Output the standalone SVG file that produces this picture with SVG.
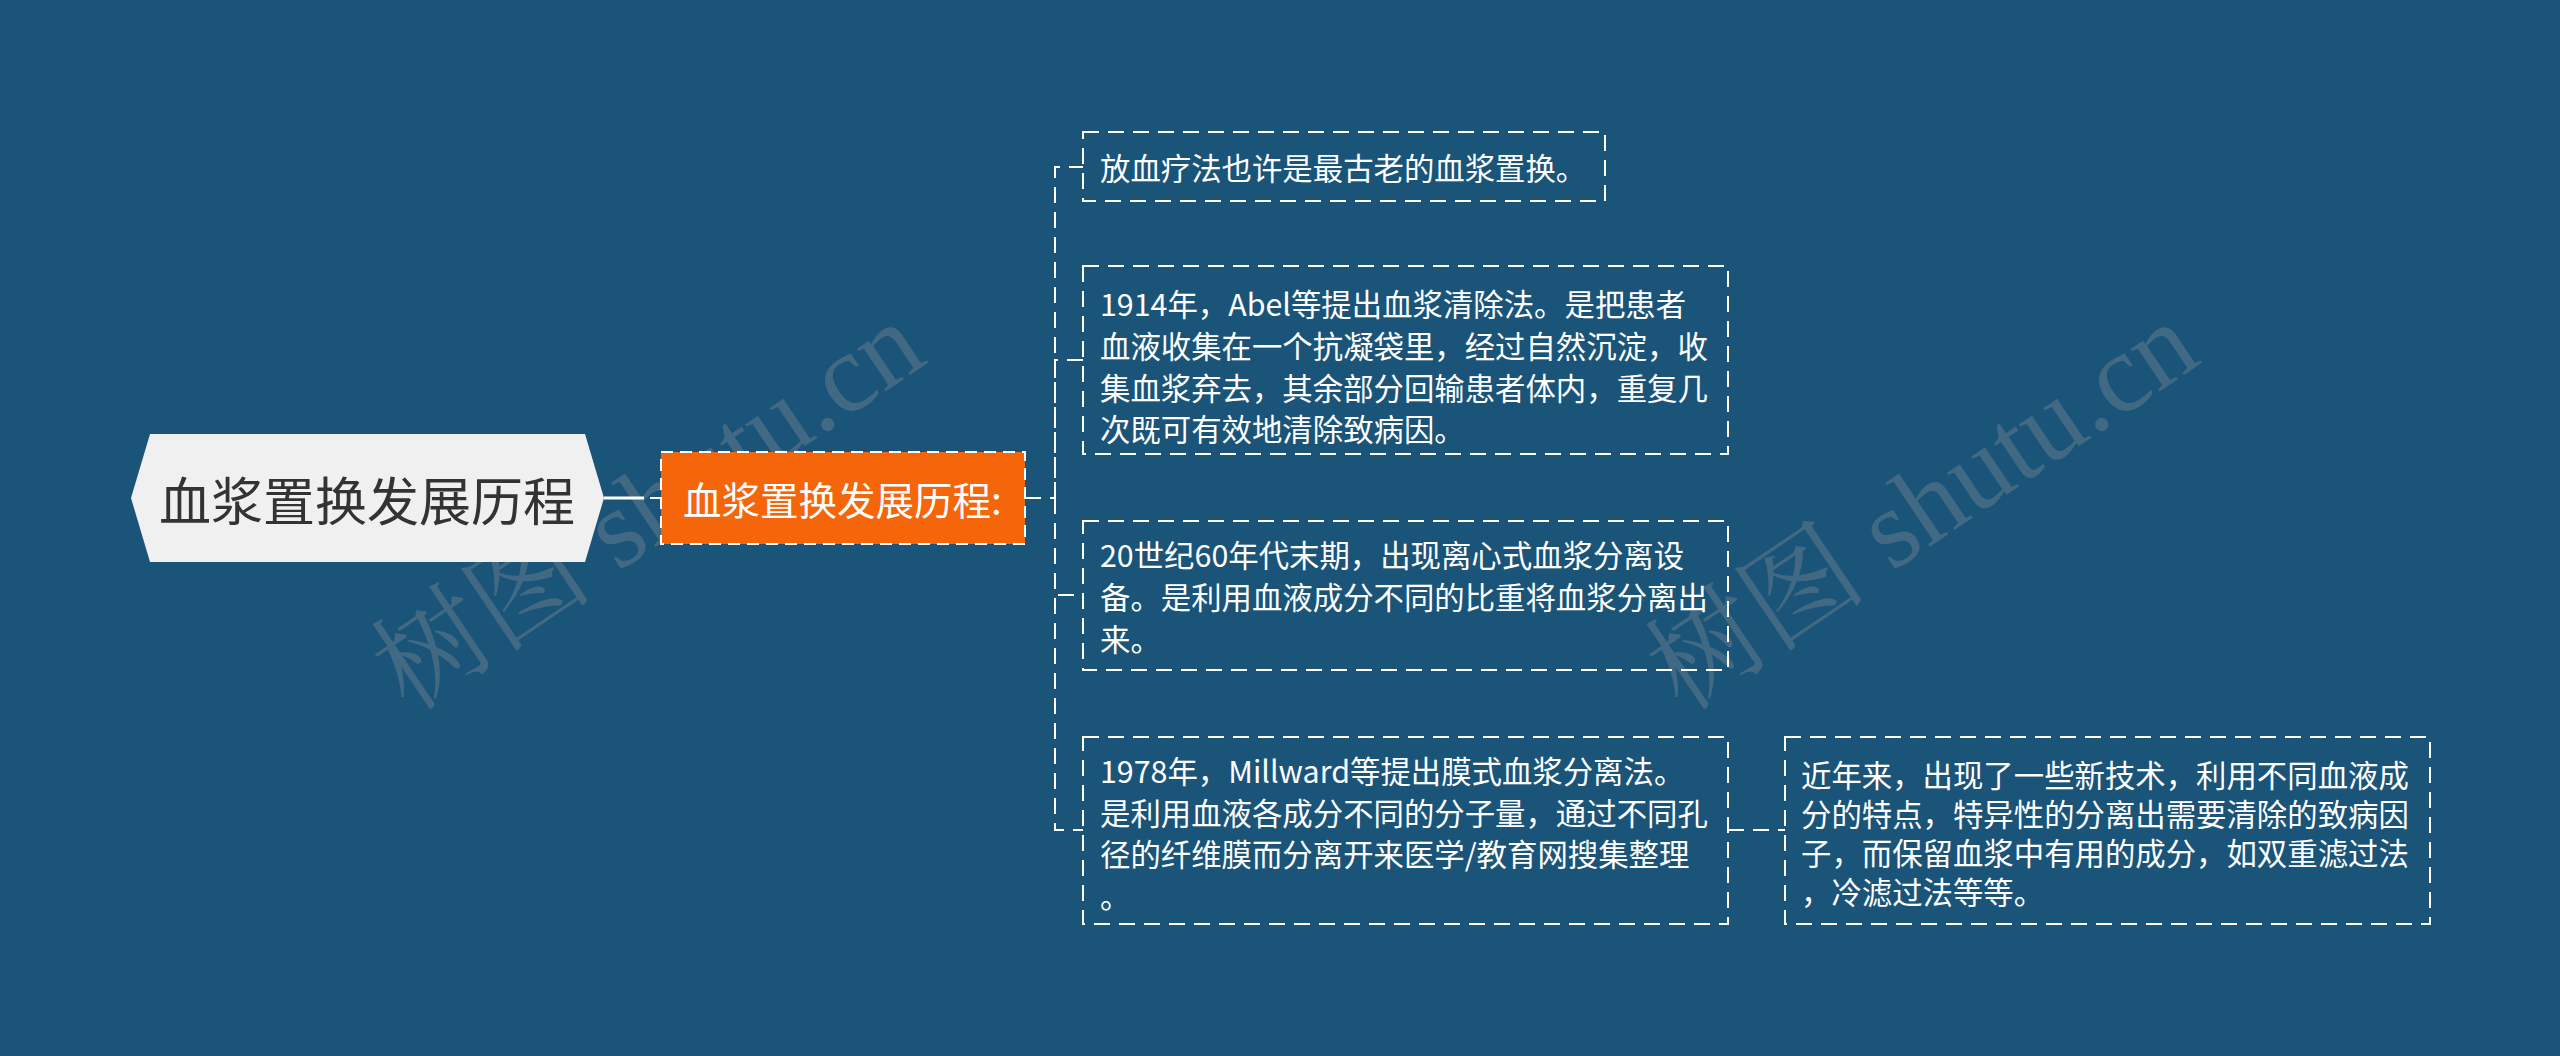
<svg xmlns="http://www.w3.org/2000/svg" width="2560" height="1056" viewBox="0 0 2560 1056">
<style>
.t{font-family:"Microsoft YaHei","Noto Sans CJK SC","Noto Sans",sans-serif;dominant-baseline:central}
.leaf{fill:none;stroke:#ffffff;stroke-width:2;stroke-dasharray:16 9}
.lt{font-size:30.4px;fill:#ffffff}
.con{fill:none;stroke:#ffffff;stroke-width:2;stroke-dasharray:16 9}
.wm{font-family:"Liberation Serif","Noto Serif CJK SC",serif;font-size:112px;fill:#9a9a9a;fill-opacity:0.3}
</style>
<rect width="2560" height="1056" fill="#1a5479"/>
<g id="watermarks">
<text class="wm" transform="translate(648,506) rotate(-34)" text-anchor="middle" dominant-baseline="central">树图 shutu.cn</text>
<text class="wm" transform="translate(1922,506) rotate(-34)" text-anchor="middle" dominant-baseline="central">树图 shutu.cn</text>
</g>
<g id="connectors">
<line x1="604" y1="498" x2="644" y2="498" stroke="#ffffff" stroke-width="3"/>
<line x1="650" y1="498" x2="661" y2="498" stroke="#ffffff" stroke-width="2"/>
<path class="con" d="M1025,498 H1055 V167 H1083"/>
<path class="con" d="M1055,498 V360 H1083"/>
<path class="con" d="M1055,498 V595 H1083"/>
<path class="con" d="M1055,498 V830 H1083"/>
<path class="con" d="M1728,830 H1785"/>
</g>
<g id="root">
<polygon points="131,498 150,434 585,434 604,498 585,562 150,562" fill="#f0f0f0"/>
<text class="t" x="367" y="498" text-anchor="middle" font-size="52" fill="#333333">血浆置换发展历程</text>
</g>
<g id="sub">
<rect x="661" y="452" width="364" height="92" fill="#f5650a" stroke="#ffffff" stroke-width="2" stroke-dasharray="12 7"/>
<text class="t" x="683" y="498" font-size="38.5" fill="#ffffff">血浆置换发展历程:</text>
</g>
<g id="leaf1">
<rect class="leaf" x="1083" y="132" width="522" height="69"/>
<text class="t lt" x="1100" y="167">放血疗法也许是最古老的血浆置换。</text>
</g>
<g id="leaf2">
<rect class="leaf" x="1083" y="266" width="645" height="188"/>
<text class="t lt" x="1100" y="303">1914年，Abel等提出血浆清除法。是把患者</text>
<text class="t lt" x="1100" y="345">血液收集在一个抗凝袋里，经过自然沉淀，收</text>
<text class="t lt" x="1100" y="387">集血浆弃去，其余部分回输患者体内，重复几</text>
<text class="t lt" x="1100" y="428">次既可有效地清除致病因。</text>
</g>
<g id="leaf3">
<rect class="leaf" x="1083" y="521" width="645" height="149"/>
<text class="t lt" x="1100" y="554">20世纪60年代末期，出现离心式血浆分离设</text>
<text class="t lt" x="1100" y="596">备。是利用血液成分不同的比重将血浆分离出</text>
<text class="t lt" x="1100" y="638">来。</text>
</g>
<g id="leaf4">
<rect class="leaf" x="1083" y="737" width="645" height="187"/>
<text class="t lt" x="1100" y="770">1978年，Millward等提出膜式血浆分离法。</text>
<text class="t lt" x="1100" y="812">是利用血液各成分不同的分子量，通过不同孔</text>
<text class="t lt" x="1100" y="853">径的纤维膜而分离开来医学/教育网搜集整理</text>
<text class="t lt" x="1100" y="895">。</text>
</g>
<g id="leaf5">
<rect class="leaf" x="1785" y="737" width="645" height="187"/>
<text class="t lt" x="1801" y="774">近年来，出现了一些新技术，利用不同血液成</text>
<text class="t lt" x="1801" y="813">分的特点，特异性的分离出需要清除的致病因</text>
<text class="t lt" x="1801" y="852">子，而保留血浆中有用的成分，如双重滤过法</text>
<text class="t lt" x="1801" y="891">，冷滤过法等等。</text>
</g>
</svg>
